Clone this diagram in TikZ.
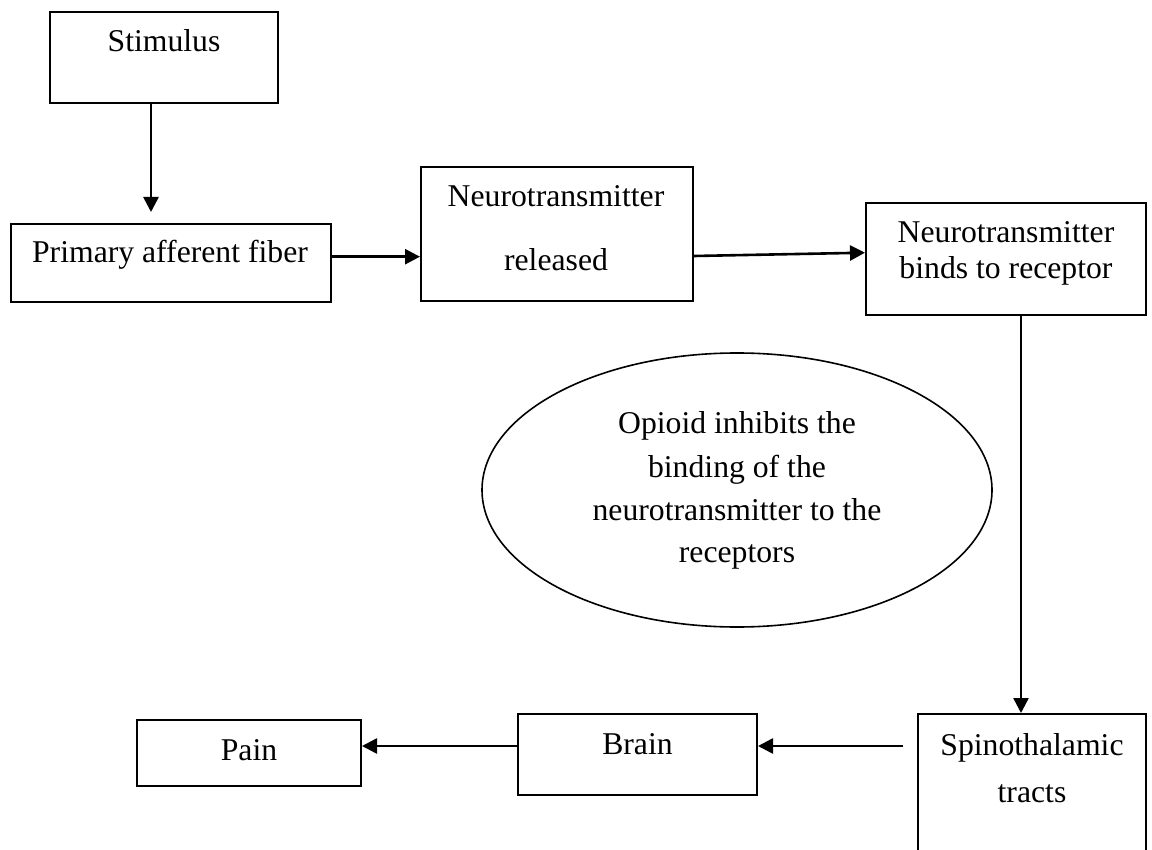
\documentclass[tikz,border=0pt]{standalone}
\usepackage{fontspec}
\setmainfont{Liberation Serif}
\usetikzlibrary{arrows.meta,shapes.geometric,calc}
\begin{document}
\begin{tikzpicture}[x=1pt,y=-1pt,
  box/.style={draw,line width=2pt,inner sep=0pt},
  lbl/.style={anchor=base,inner sep=0pt,font=\fontsize{31.7}{38}\selectfont},
  arr/.style={line width=2.6pt,-{Triangle[length=15pt,width=15pt]}}]
\useasboundingbox (0,0) rectangle (1152,850);
\clip (0,0) rectangle (1152,850);
\fill[white] (0,0) rectangle (1152,850);
% boxes
\node[box,minimum width=228pt,minimum height=91pt] (stim) at (164,57.5) {};
\node[box,minimum width=320pt,minimum height=78pt] (prim) at (171,263) {};
\node[box,minimum width=272pt,minimum height=134pt] (rel) at (557,234) {};
\node[box,minimum width=280pt,minimum height=112pt] (bind) at (1006,259) {};
\node[draw,ellipse,line width=1.6pt,minimum width=510pt,minimum height=274pt,inner sep=0pt] (opi) at (737,490) {};
\node[box,minimum width=228pt,minimum height=160pt] (spino) at (1032,794) {};
\node[box,minimum width=239pt,minimum height=81pt] (brain) at (637.5,754.5) {};
\node[box,minimum width=224pt,minimum height=66pt] (pain) at (249,753) {};
% labels
\node[lbl] (tstim) at (164,51.7) {Stimulus};
\node[lbl] (tprim) at (170,263) {Primary afferent fiber};
\node[lbl] (trel1) at (556,207) {Neurotransmitter};
\node[lbl] (trel2) at (556,271) {released};
\node[lbl] (tbind1) at (1006,243) {Neurotransmitter};
\node[lbl] (tbind2) at (1006,279) {binds to receptor};
\node[lbl] (topi1) at (737,434) {Opioid inhibits the};
\node[lbl] (topi2) at (737,477) {binding of the};
\node[lbl] (topi3) at (737,520) {neurotransmitter to the};
\node[lbl] (topi4) at (737,562) {receptors};
\node[lbl] (tspino1) at (1032,755) {Spinothalamic};
\node[lbl] (tspino2) at (1032,802) {tracts};
\node[lbl] (tbrain) at (637.5,754) {Brain};
\node[lbl] (tpain) at (249,760) {Pain};
% connector helpers
\coordinate (a1) at (151,212);
\coordinate (y2) at (0,256.7);
\coordinate (s3) at (0,256);
\coordinate (e3) at (0,252.7);
\coordinate (x4) at (1021,0);
\coordinate (a5) at (903,746);
\coordinate (y6) at (0,746);
% connectors
\draw[arr] (stim.south -| a1) -- (a1);
\draw[arr] (prim.east |- y2) -- (rel.west |- y2);
\draw[arr] (rel.east |- s3) -- (bind.west |- e3);
\draw[arr] (bind.south -| x4) -- (spino.north -| x4);
\draw[arr] (a5) -- (brain.east |- a5);
\draw[arr] (brain.west |- y6) -- (pain.east |- y6);
\end{tikzpicture}
\end{document}
